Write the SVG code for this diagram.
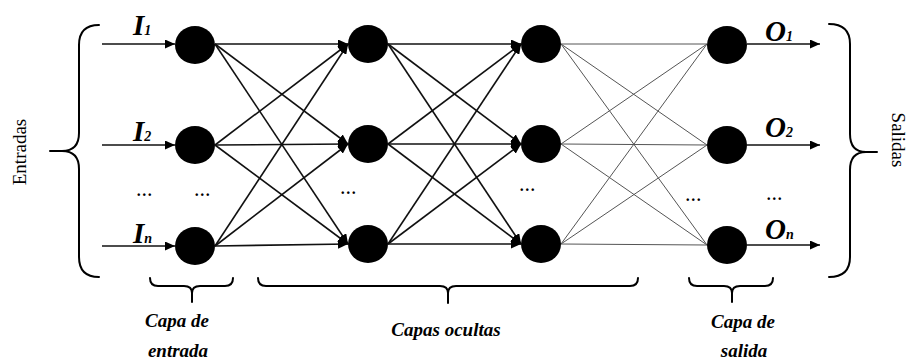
<svg xmlns="http://www.w3.org/2000/svg" width="909" height="361" viewBox="0 0 909 361">
  <style>
    .node { fill: #000; }
    .edge { stroke: #111; stroke-width: 1.6; fill: none; }
    .thin { stroke: #555; stroke-width: 1; fill: none; }
    .brace { stroke: #000; stroke-width: 2; fill: none; stroke-linecap: round; }
    .sym { font-family: "Liberation Serif", "Times New Roman", serif; font-weight: bold; font-style: italic; font-size: 29px; fill: #000; }
    .sub { font-size: 14px; }
    .cap { font-family: "Liberation Serif", "Times New Roman", serif; font-weight: bold; font-style: italic; font-size: 19px; fill: #000; text-anchor: middle; }
    .side { font-family: "Liberation Serif", "Times New Roman", serif; font-size: 19px; fill: #000; text-anchor: middle; }
    .dots { font-family: "Liberation Serif", "Times New Roman", serif; font-weight: bold; font-size: 16px; letter-spacing: 1.5px; fill: #000; text-anchor: middle; }
  </style>
  <defs>
    <marker id="arrow" markerUnits="userSpaceOnUse" markerWidth="11" markerHeight="9" refX="10" refY="4.5" orient="auto">
      <path d="M0,0 L10,4.5 L0,9 z" fill="#000"/>
    </marker>
  </defs>
  <rect width="909" height="361" fill="#fff"/>

  <!-- connectors -->
  <g id="connectors">
    <!-- inputs into the input layer -->
    <line class="edge" x1="102" y1="44" x2="175" y2="44" marker-end="url(#arrow)"/>
    <line class="edge" x1="102" y1="145" x2="175" y2="145" marker-end="url(#arrow)"/>
    <line class="edge" x1="102" y1="246" x2="175" y2="246" marker-end="url(#arrow)"/>
    <!-- input layer to hidden layer 1 -->
    <line class="edge" x1="215" y1="44" x2="348" y2="44" marker-end="url(#arrow)"/>
    <line class="edge" x1="215" y1="44" x2="348" y2="144" marker-end="url(#arrow)"/>
    <line class="edge" x1="215" y1="44" x2="348" y2="244" marker-end="url(#arrow)"/>
    <line class="edge" x1="215" y1="145" x2="348" y2="44" marker-end="url(#arrow)"/>
    <line class="edge" x1="215" y1="145" x2="348" y2="144" marker-end="url(#arrow)"/>
    <line class="edge" x1="215" y1="145" x2="348" y2="244" marker-end="url(#arrow)"/>
    <line class="edge" x1="215" y1="246" x2="348" y2="44" marker-end="url(#arrow)"/>
    <line class="edge" x1="215" y1="246" x2="348" y2="144" marker-end="url(#arrow)"/>
    <line class="edge" x1="215" y1="246" x2="348" y2="244" marker-end="url(#arrow)"/>
    <!-- hidden layer 1 to hidden layer 2 -->
    <line class="edge" x1="388" y1="44" x2="521" y2="44" marker-end="url(#arrow)"/>
    <line class="edge" x1="388" y1="44" x2="521" y2="144" marker-end="url(#arrow)"/>
    <line class="edge" x1="388" y1="44" x2="521" y2="244" marker-end="url(#arrow)"/>
    <line class="edge" x1="388" y1="144" x2="521" y2="44" marker-end="url(#arrow)"/>
    <line class="edge" x1="388" y1="144" x2="521" y2="144" marker-end="url(#arrow)"/>
    <line class="edge" x1="388" y1="144" x2="521" y2="244" marker-end="url(#arrow)"/>
    <line class="edge" x1="388" y1="244" x2="521" y2="44" marker-end="url(#arrow)"/>
    <line class="edge" x1="388" y1="244" x2="521" y2="144" marker-end="url(#arrow)"/>
    <line class="edge" x1="388" y1="244" x2="521" y2="244" marker-end="url(#arrow)"/>
    <!-- hidden layer 2 to output layer -->
    <line class="thin" x1="561" y1="44" x2="707" y2="44"/>
    <line class="thin" x1="561" y1="44" x2="707" y2="145"/>
    <line class="thin" x1="561" y1="44" x2="707" y2="245"/>
    <line class="thin" x1="561" y1="144" x2="707" y2="44"/>
    <line class="thin" x1="561" y1="144" x2="707" y2="145"/>
    <line class="thin" x1="561" y1="144" x2="707" y2="245"/>
    <line class="thin" x1="561" y1="244" x2="707" y2="44"/>
    <line class="thin" x1="561" y1="244" x2="707" y2="145"/>
    <line class="thin" x1="561" y1="244" x2="707" y2="245"/>
    <!-- outputs -->
    <line class="edge" x1="747" y1="44" x2="820" y2="44" marker-end="url(#arrow)"/>
    <line class="edge" x1="747" y1="145" x2="820" y2="145" marker-end="url(#arrow)"/>
    <line class="edge" x1="747" y1="245" x2="820" y2="245" marker-end="url(#arrow)"/>
  </g>

  <!-- input layer -->
  <g id="in1"><ellipse class="node" cx="195" cy="45" rx="20" ry="19"/></g>
  <g id="in2"><ellipse class="node" cx="195" cy="145" rx="20" ry="19"/></g>
  <g id="in3"><ellipse class="node" cx="195" cy="246" rx="20" ry="19"/></g>
  <!-- hidden layer 1 -->
  <g id="h1a"><ellipse class="node" cx="368" cy="44" rx="20" ry="19"/></g>
  <g id="h1b"><ellipse class="node" cx="368" cy="144" rx="20" ry="19"/></g>
  <g id="h1c"><ellipse class="node" cx="368" cy="244" rx="20" ry="19"/></g>
  <!-- hidden layer 2 -->
  <g id="h2a"><ellipse class="node" cx="541" cy="44" rx="20" ry="19"/></g>
  <g id="h2b"><ellipse class="node" cx="541" cy="144" rx="20" ry="19"/></g>
  <g id="h2c"><ellipse class="node" cx="541" cy="244" rx="20" ry="19"/></g>
  <!-- output layer -->
  <g id="out1"><ellipse class="node" cx="727" cy="45" rx="20" ry="19"/></g>
  <g id="out2"><ellipse class="node" cx="727" cy="145" rx="20" ry="19"/></g>
  <g id="out3"><ellipse class="node" cx="727" cy="245" rx="20" ry="19"/></g>

  <!-- input / output symbols -->
  <text class="sym" x="133" y="35">I<tspan class="sub">1</tspan></text>
  <text class="sym" x="133" y="141">I<tspan class="sub">2</tspan></text>
  <text class="sym" x="133" y="243">I<tspan class="sub">n</tspan></text>
  <text class="sym" x="765" y="41">O<tspan class="sub">1</tspan></text>
  <text class="sym" x="765" y="137">O<tspan class="sub">2</tspan></text>
  <text class="sym" x="765" y="239">O<tspan class="sub">n</tspan></text>

  <!-- ellipsis marks -->
  <text class="dots" x="145" y="196">...</text>
  <text class="dots" x="203" y="196">...</text>
  <text class="dots" x="349" y="194">...</text>
  <text class="dots" x="528" y="191">...</text>
  <text class="dots" x="694" y="201">...</text>
  <text class="dots" x="775" y="200">...</text>

  <!-- side braces -->
  <path class="brace" d="M99,25 Q79,25 79,45 L79,133 Q79,151 62,151 L50,151 M62,151 Q79,151 79,169 L79,257 Q79,277 99,277"/>
  <path class="brace" d="M829,24 Q850,24 850,44 L850,134 Q850,152 866,152 L877,152 M866,152 Q850,152 850,170 L850,257 Q850,277 829,277"/>
  <text class="side" transform="translate(20,152) rotate(-90)" dy="6">Entradas</text>
  <text class="side" transform="translate(898,140) rotate(90)" dy="6">Salidas</text>

  <!-- bottom braces -->
  <path class="brace" d="M150,278 Q150,286 158,286 L184,286 Q192,286 192,293 L192,302 M192,293 Q192,286 200,286 L225,286 Q233,286 233,278"/>
  <path class="brace" d="M258,278 Q258,286 266,286 L440,286 Q448,286 448,293 L448,303 M448,293 Q448,286 456,286 L630,286 Q638,286 638,278"/>
  <path class="brace" d="M689,278 Q689,286 697,286 L724,286 Q732,286 732,293 L732,302 M732,293 Q732,286 740,286 L765,286 Q773,286 773,278"/>

  <!-- layer captions -->
  <text class="cap" x="177" y="327">Capa de</text>
  <text class="cap" x="178" y="357">entrada</text>
  <text class="cap" x="446" y="336">Capas ocultas</text>
  <text class="cap" x="743" y="328">Capa de</text>
  <text class="cap" x="744" y="357">salida</text>
</svg>
